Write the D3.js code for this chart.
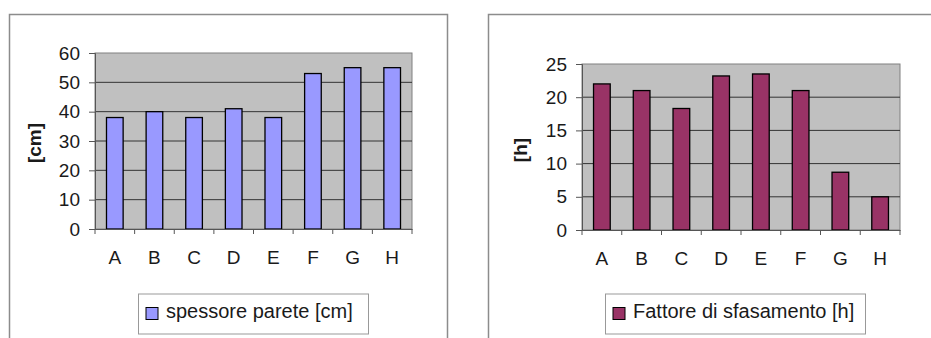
<!DOCTYPE html>
<html><head><meta charset="utf-8">
<script src="https://cdn.jsdelivr.net/npm/d3@7"></script>
<style>html,body{margin:0;padding:0;background:#fff;}svg{display:block;}</style>
</head><body>
<svg id="c" width="931" height="338"></svg>
<script>
const categories = ["A","B","C","D","E","F","G","H"];
const spessore = [38, 40, 38, 41, 38, 53, 55, 55];
const sfasamento = [22, 21, 18.3, 23.2, 23.5, 21, 8.7, 5];
const ticksLeft = [0,10,20,30,40,50,60];
const ticksRight = [0,5,10,15,20,25];

const svg = d3.select("#c");
const font = "'Liberation Sans', Arial, sans-serif";
const fs = 19;

function chart(cfg) {
  const g = svg.append("g");
  g.append("path").attr("d", cfg.frame).attr("fill","none").attr("stroke","#8c8c8c").attr("stroke-width",1.5);
  const x = d3.scaleBand().domain(categories).range([cfg.x0, cfg.x1]).paddingInner(0.58).paddingOuter(0.29);
  const xb = d3.scaleBand().domain(categories).range([cfg.x0, cfg.x1]);
  const y = d3.scaleLinear().domain([0, cfg.max]).range([cfg.y0, cfg.y1]);
  g.append("rect").attr("x",cfg.x0).attr("y",cfg.y1).attr("width",cfg.x1-cfg.x0).attr("height",cfg.y0-cfg.y1)
    .attr("fill","#c0c0c0").attr("stroke","#808080").attr("stroke-width",1);
  g.append("g").selectAll("line").data(cfg.ticks.filter(t=>t>0 && t<cfg.max)).join("line")
    .attr("x1",cfg.x0).attr("x2",cfg.x1).attr("y1",d=>y(d)).attr("y2",d=>y(d))
    .attr("stroke","#333").attr("stroke-width",1);
  g.append("g").selectAll("rect").data(cfg.values).join("rect")
    .attr("x",(d,i)=>x(categories[i])).attr("width",x.bandwidth())
    .attr("y",d=>y(d)).attr("height",d=>y(0)-y(d))
    .attr("fill",cfg.color).attr("stroke","#000").attr("stroke-width",1.3);
  const ya = d3.axisLeft(y).tickValues(cfg.ticks).tickSize(6).tickPadding(9);
  const yg = g.append("g").attr("transform",`translate(${cfg.x0},0)`).call(ya);
  yg.select(".domain").attr("stroke","#555");
  yg.selectAll(".tick line").attr("stroke","#555");
  yg.selectAll("text").attr("font-family",font).attr("font-size",fs).attr("fill","#1a1a1a");
  const xa = d3.axisBottom(xb).tickSize(0).tickPadding(22);
  const xg = g.append("g").attr("transform",`translate(0,${cfg.y0})`).call(xa);
  xg.select(".domain").attr("stroke","#555");
  xg.selectAll("text").attr("font-family",font).attr("font-size",fs).attr("fill","#1a1a1a");
  const bounds = categories.map(c=>xb(c)).concat([cfg.x1]);
  g.append("g").selectAll("line").data(bounds).join("line")
    .attr("x1",d=>d).attr("x2",d=>d).attr("y1",cfg.y0).attr("y2",cfg.y0+5)
    .attr("stroke","#555");
  g.append("text").attr("transform",`translate(${cfg.ytx},${cfg.yty}) rotate(-90)`)
    .attr("text-anchor","middle").attr("dominant-baseline","central")
    .attr("font-family",font).attr("font-size",fs).attr("font-weight","bold").attr("fill","#1a1a1a").text(cfg.ytitle);
  g.append("rect").attr("x",cfg.lx).attr("y",294).attr("width",cfg.lw).attr("height",40)
    .attr("fill","#fff").attr("stroke","#999").attr("stroke-width",1);
  g.append("rect").attr("x",cfg.lx+7.5).attr("y",307.5).attr("width",12).attr("height",12)
    .attr("fill",cfg.color).attr("stroke","#000").attr("stroke-width",1);
  g.append("text").attr("x",cfg.lx+27.5).attr("y",318).attr("font-family",font).attr("font-size",20)
    .attr("fill","#1a1a1a").text(cfg.legend);
}

chart({frame:"M9.5,338 V14.5 H447.5 V338", x0:95, x1:412, y0:229, y1:53, max:60, ticks:ticksLeft,
  values:spessore, color:"#9999ff", ytitle:"[cm]", ytx:34, yty:143, lx:138.5, lw:230, legend:"spessore parete [cm]"});
chart({frame:"M488.5,338 V14.5 H931", x0:582, x1:900, y0:230, y1:64, max:25, ticks:ticksRight,
  values:sfasamento, color:"#993366", ytitle:"[h]", ytx:520, yty:150, lx:605.5, lw:260, legend:"Fattore di sfasamento [h]"});
</script>
</body></html>
